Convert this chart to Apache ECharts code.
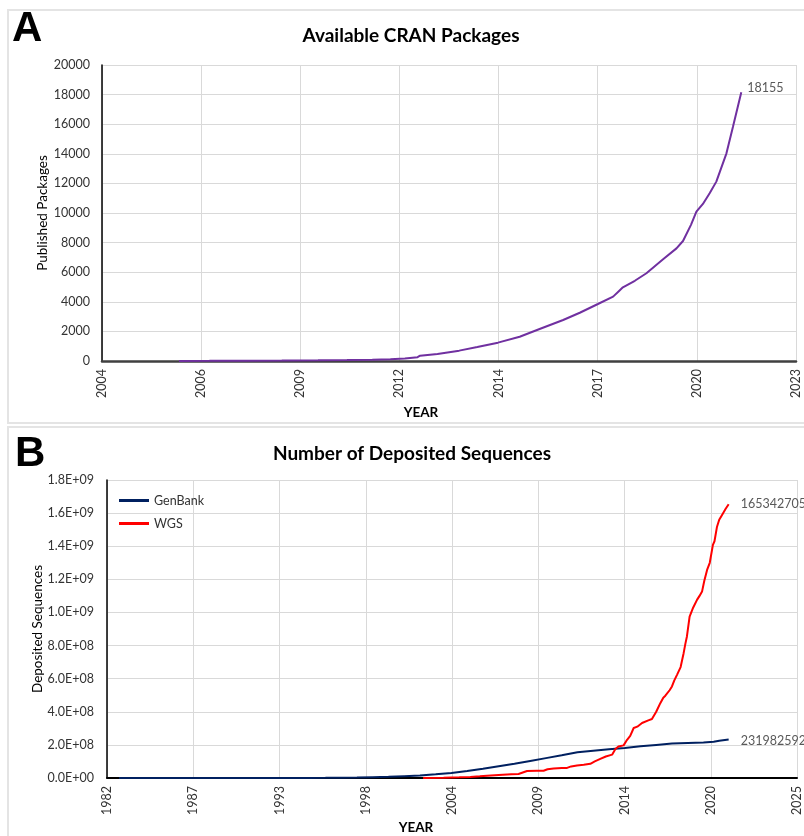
<!DOCTYPE html>
<html><head><meta charset="utf-8">
<script src="https://cdn.jsdelivr.net/npm/echarts@6/dist/echarts.min.js"></script>
<style>
html,body{margin:0;padding:0;background:#fff;}
#wrap{position:relative;width:804px;height:836px;overflow:hidden;background:#fff;}
.panel{position:absolute;border:2px solid #e4e4e4;}
#chart{position:absolute;left:0;top:0;width:804px;height:836px;}
</style></head><body>
<div id="wrap">
<div class="panel" style="left:7px;top:9px;width:820px;height:411px;"></div>
<div class="panel" style="left:7px;top:426px;width:820px;height:430px;"></div>
<div id="chart"></div>
</div>
<script>
// ---- Panel A: Available CRAN Packages ----
const xTicksA = ['2004','2006','2009','2012','2014','2017','2020','2023'];
const yTicksA = ['0','2000','4000','6000','8000','10000','12000','14000','16000','18000','20000'];
const cranYear = [2006.16,2007.0,2008.0,2009.0,2010.0,2010.8,2011.5,2012.0,2012.4,2012.75,2012.82,2013.3,2013.9,2014.4,2014.97,2015.57,2016.12,2016.77,2017.23,2017.73,2018.15,2018.3,2018.42,2018.75,2019.07,2019.53,2019.9,2020.08,2020.3,2020.45,2020.63,2020.82,2021.0,2021.28,2021.46,2021.65,2021.69];
const cranCount = [5,10,18,30,45,60,80,110,170,260,360,480,700,950,1240,1640,2160,2770,3260,3850,4350,4700,4980,5420,5930,6870,7610,8110,9200,10090,10610,11350,12120,14030,15830,17750,18155];

// ---- Panel B: Number of Deposited Sequences ----
const xTicksB = ['1982','1987','1993','1998','2004','2009','2014','2020','2025'];
const yTicksB = ['0.0E+00','2.0E+08','4.0E+08','6.0E+08','8.0E+08','1.0E+09','1.2E+09','1.4E+09','1.6E+09','1.8E+09'];
const genbankYear = [1982.9,1985,1988,1990,1992,1994,1995,1996,1997,1998,1999,2000,2001,2002,2003,2004,2005,2006,2007,2008,2009,2010,2011,2012,2013,2014,2015,2016,2017,2018,2019,2020,2020.65,2021.0,2021.6];
const genbankCount = [606,5700,20000,40000,80000,300000,560000,1000000,1800000,2800000,4900000,7000000,11000000,15000000,22000000,30000000,42000000,56000000,71000000,86000000,103000000,120000000,137000000,155000000,165000000,174000000,181000000,192000000,200000000,208000000,212000000,215000000,219000000,225000000,231982592];
const wgsYear = [2002.2,2003.5,2004.5,2005.2,2005.8,2006.26,2007.0,2007.8,2008.26,2008.37,2008.8,2009.43,2009.85,2010.1,2010.49,2011.0,2011.34,2011.6,2011.97,2012.4,2012.82,2013.1,2013.45,2013.8,2014.2,2014.41,2014.6,2014.93,2015.15,2015.35,2015.57,2015.8,2016.1,2016.5,2016.73,2017.0,2017.26,2017.45,2017.58,2017.85,2018.0,2018.15,2018.32,2018.55,2018.74,2018.85,2018.95,2019.12,2019.35,2019.59,2019.75,2019.91,2020.05,2020.23,2020.4,2020.6,2020.7,2020.86,2021.0,2021.18,2021.4,2021.6];
const wgsCount = [0,2000000,4000000,6000000,10000000,14000000,18000000,22000000,24000000,36000000,42000000,44000000,44000000,53000000,58000000,60000000,61000000,70000000,76000000,80000000,86000000,100000000,115000000,130000000,141000000,175000000,190000000,197000000,231000000,255000000,302000000,310000000,332000000,348000000,356000000,400000000,452000000,485000000,497000000,530000000,553000000,590000000,623000000,670000000,754000000,810000000,855000000,975000000,1030000000,1076000000,1100000000,1126000000,1190000000,1257000000,1300000000,1408000000,1430000000,1518000000,1560000000,1589000000,1625000000,1653427055];

// Excel-style date serial (days) so the axis steps like the original date axis
const toSerial = y => (y - 1900) * 365.25 + 1;
const pairs = (xs, vs) => xs.map((x, i) => [toSerial(x), vs[i]]);

const FONT = 'Lato';
const labelColor = '#333333';
const gridLine = { show: true, lineStyle: { color: '#d9d9d9', width: 1 } };

const chart = echarts.init(document.getElementById('chart'), null, { renderer: 'canvas' });
chart.setOption({
  animation: false,
  backgroundColor: 'transparent',
  title: [
    { text: 'A', left: 7, top: 3, textStyle: { fontFamily: 'Liberation Sans', fontWeight: 'bold', fontSize: 42, color: '#000' } },
    { text: 'Available CRAN Packages', left: 406, top: 21, textAlign: 'center', textStyle: { fontFamily: FONT, fontWeight: 'bold', fontSize: 19, color: '#000' } },
    { text: 'B', left: 10, top: 428, textStyle: { fontFamily: 'Liberation Sans', fontWeight: 'bold', fontSize: 42, color: '#000' } },
    { text: 'Number of Deposited Sequences', left: 407, top: 439, textAlign: 'center', textStyle: { fontFamily: FONT, fontWeight: 'bold', fontSize: 19, color: '#000' } }
  ],
  legend: {
    data: ['GenBank', 'WGS'], orient: 'vertical', left: 114, top: 489,
    icon: 'rect', itemWidth: 30, itemHeight: 3, itemGap: 10,
    textStyle: { fontFamily: FONT, fontSize: 12.5, color: labelColor }
  },
  grid: [
    { left: 102, top: 65, width: 694, height: 296 },
    { left: 107, top: 480, width: 690, height: 298 }
  ],
  xAxis: [
    {
      gridIndex: 0, type: 'value', min: 38000, max: 45000, interval: 1000,
      axisLine: { show: true, onZero: false, lineStyle: { color: '#404040', width: 2.5 } },
      axisTick: { show: false }, splitLine: gridLine,
      axisLabel: { rotate: 90, margin: 8, fontFamily: FONT, fontSize: 12.5, color: labelColor, formatter: (v, i) => xTicksA[i] },
      name: 'YEAR', nameLocation: 'middle', nameGap: 45,
      nameTextStyle: { fontFamily: FONT, fontWeight: 'bold', fontSize: 13.5, color: '#000', padding: [0, 56, 0, 0] }
    },
    {
      gridIndex: 1, type: 'value', min: 30000, max: 46000, interval: 2000,
      axisLine: { show: true, onZero: false, lineStyle: { color: '#000', width: 2 } },
      axisTick: { show: false }, splitLine: gridLine,
      axisLabel: { rotate: 90, margin: 8, fontFamily: FONT, fontSize: 12.5, color: labelColor, formatter: (v, i) => xTicksB[i] },
      name: 'YEAR', nameLocation: 'middle', nameGap: 43,
      nameTextStyle: { fontFamily: FONT, fontWeight: 'bold', fontSize: 13.5, color: '#000', padding: [0, 72, 0, 0] }
    }
  ],
  yAxis: [
    {
      gridIndex: 0, type: 'value', min: 0, max: 20000, interval: 2000,
      axisLine: { show: true, lineStyle: { color: '#000', width: 1.5 } },
      axisTick: { show: false }, splitLine: gridLine,
      axisLabel: { margin: 12, fontFamily: FONT, fontSize: 12.5, color: labelColor, formatter: (v, i) => yTicksA[i] },
      name: 'Published Packages', nameLocation: 'middle', nameGap: 52, nameMoveOverlap: false,
      nameTextStyle: { fontFamily: FONT, fontSize: 13.5, color: '#000' }
    },
    {
      gridIndex: 1, type: 'value', min: 0, max: 1800000000, interval: 200000000,
      axisLine: { show: true, lineStyle: { color: '#000', width: 1.5 } },
      axisTick: { show: false }, splitLine: gridLine,
      axisLabel: { margin: 13, fontFamily: FONT, fontSize: 12.5, color: labelColor, formatter: (v, i) => yTicksB[i] },
      name: 'Deposited Sequences', nameLocation: 'middle', nameGap: 62, nameMoveOverlap: false,
      nameTextStyle: { fontFamily: FONT, fontSize: 13.5, color: '#000' }
    }
  ],
  series: [
    {
      name: 'CRAN', type: 'line', xAxisIndex: 0, yAxisIndex: 0, showSymbol: false, symbol: 'none',
      data: pairs(cranYear, cranCount),
      lineStyle: { color: '#7030A0', width: 2 }, itemStyle: { color: '#7030A0' },
      endLabel: { show: true, formatter: p => String(p.value[1]), fontFamily: FONT, fontSize: 12.5, color: '#595959', offset: [-2, -4] },
      emphasis: { disabled: true }
    },
    {
      name: 'GenBank', type: 'line', xAxisIndex: 1, yAxisIndex: 1, showSymbol: false, symbol: 'none',
      data: pairs(genbankYear, genbankCount),
      lineStyle: { color: '#002060', width: 2 }, itemStyle: { color: '#002060' },
      endLabel: { show: true, formatter: p => String(p.value[1]), fontFamily: FONT, fontSize: 12.5, color: '#595959', offset: [4, 1] },
      emphasis: { disabled: true }
    },
    {
      name: 'WGS', type: 'line', xAxisIndex: 1, yAxisIndex: 1, showSymbol: false, symbol: 'none',
      data: pairs(wgsYear, wgsCount),
      lineStyle: { color: '#FF0000', width: 2 }, itemStyle: { color: '#FF0000' },
      endLabel: { show: true, formatter: p => String(p.value[1]), fontFamily: FONT, fontSize: 12.5, color: '#595959', offset: [4, 0] },
      emphasis: { disabled: true }
    }
  ]
});
</script>
</body></html>
